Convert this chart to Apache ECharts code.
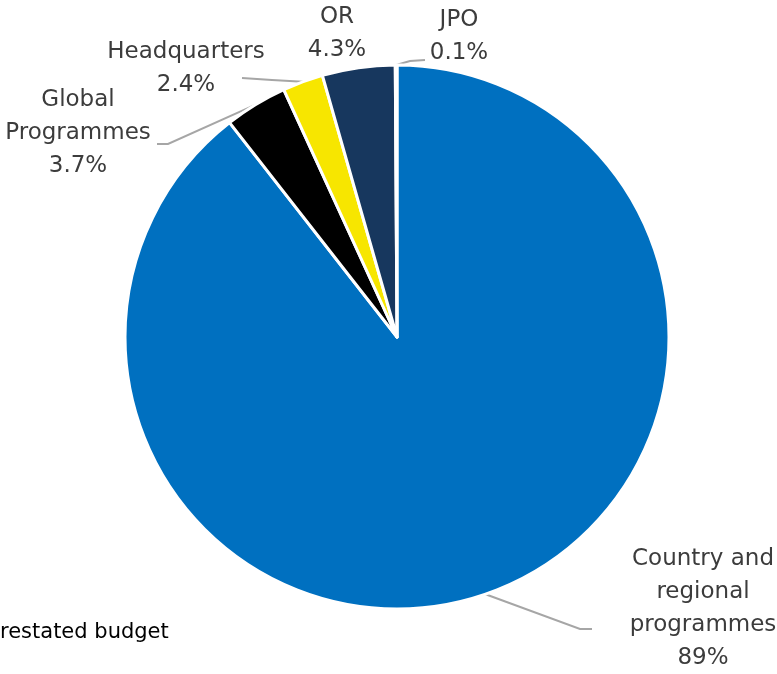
<!DOCTYPE html>
<html>
<head>
<meta charset="utf-8">
<style>
  html, body { margin: 0; padding: 0; background: #fff; }
  #chart { width: 777px; height: 674px; }
</style>
<script src="https://cdn.jsdelivr.net/npm/echarts@6/dist/echarts.min.js"></script>
</head>
<body>
<div id="chart"></div>
<script>
// Budget shares by component (per cent)
const categories = ['Country and\nregional\nprogrammes', 'Global\nProgrammes', 'Headquarters', 'OR', 'JPO'];
const shares = [89, 3.7, 2.4, 4.3, 0.1];
const sliceColors = ['#0070C0', '#000000', '#F7E600', '#17375E', '#FFFFFF'];
const showLeader = [true, true, true, false, true];
const footnote = 'restated budget';

// Label anchors (label centre, then leader elbow and end point)
const labelPlacement = [
  { x: 703, y: 609, elbow: [580, 629], end: [592, 629] },
  { x: 78, y: 133, elbow: [168, 144], end: [157, 144] },
  { x: 186, y: 69, elbow: [272, 80], end: [242, 78] },
  { x: 337, y: 34, elbow: null, end: null },
  { x: 459, y: 37, elbow: [410, 61], end: [425, 60] }
];

const chart = echarts.init(document.getElementById('chart'), null, { renderer: 'canvas' });

const data = categories.map((name, i) => ({
  name: name,
  value: shares[i],
  itemStyle: { color: sliceColors[i] },
  labelLine: { show: showLeader[i] }
}));

chart.setOption({
  animation: false,
  backgroundColor: '#ffffff',
  title: {
    text: footnote,
    left: 0,
    top: 622,
    padding: 0,
    textStyle: {
      fontFamily: 'DejaVu Sans',
      fontSize: 21,
      fontWeight: 'normal',
      color: '#000000'
    }
  },
  series: [{
    type: 'pie',
    center: [397, 337],
    radius: 272,
    startAngle: 90,
    clockwise: true,
    minAngle: 0,
    avoidLabelOverlap: false,
    emphasis: { disabled: true },
    itemStyle: { borderColor: '#ffffff', borderWidth: 3 },
    label: {
      show: true,
      formatter: '{b}\n{c}%',
      fontFamily: 'DejaVu Sans',
      fontSize: 23,
      lineHeight: 33,
      color: '#3c3c3c',
      align: 'center'
    },
    labelLine: {
      show: true,
      lineStyle: { color: '#A6A6A6', width: 2 }
    },
    labelLayout: function (params) {
      const p = labelPlacement[params.dataIndex];
      const out = { x: p.x, y: p.y, align: 'center', verticalAlign: 'middle' };
      if (p.elbow && params.labelLinePoints) {
        out.labelLinePoints = [params.labelLinePoints[0], p.elbow, p.end];
      }
      return out;
    },
    data: data
  }]
});
</script>
</body>
</html>
